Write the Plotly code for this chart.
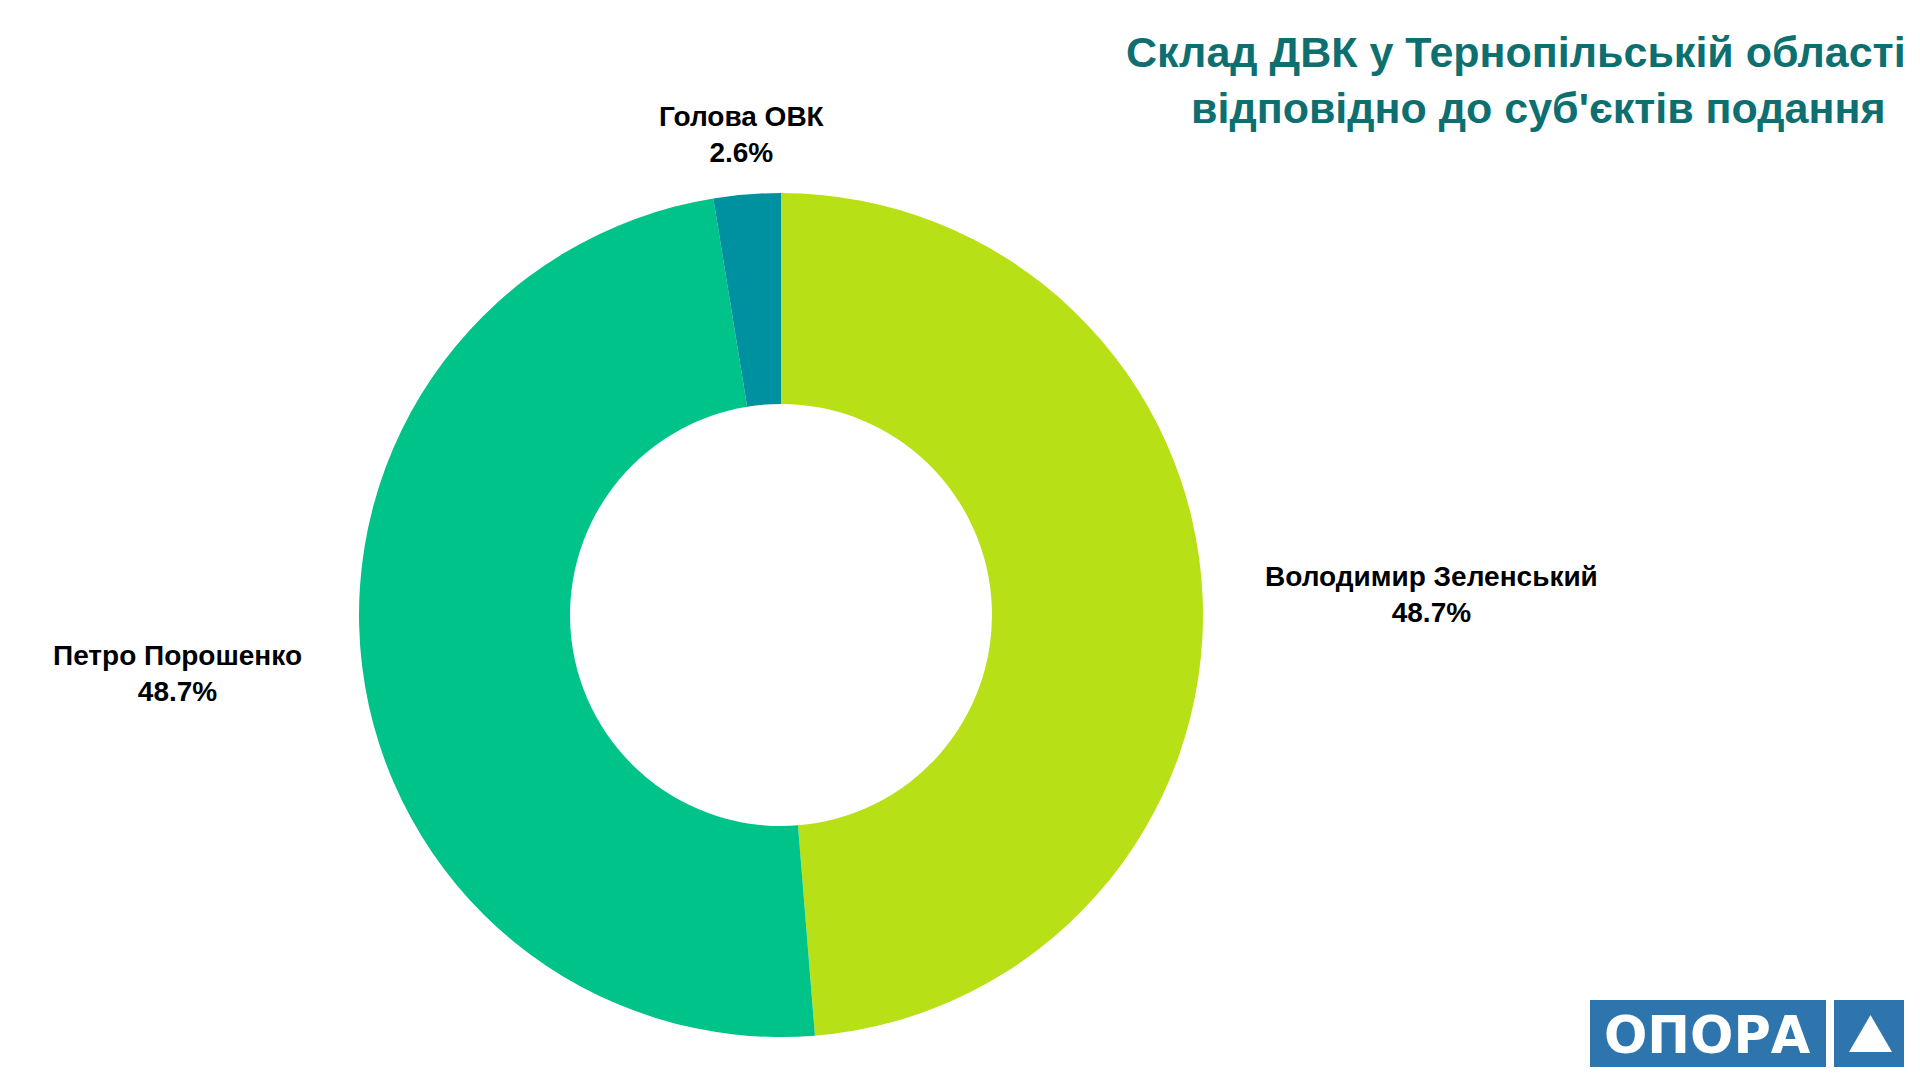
import plotly.graph_objects as go

W, H = 1920, 1080

# data
labels = ["Володимир Зеленський", "Петро Порошенко", "Голова ОВК"]
values = [19, 19, 1]
colors = ["#B8E016", "#00C389", "#0091A1"]

title_lines = ["Склад ДВК у Тернопільській області", "відповідно до суб'єктів подання"]

# label positions in px (centre of each label block)
label_pos = [(1423, 586), (169, 665), (734, 126)]


def px(x, y):
    return x / W, 1 - y / H


total = sum(values)
pcts = [f"{v / total * 100:.1f}%" for v in values]

# pie centre (773, 607), radius 422
cx, cy, r = 773, 607, 422

fig = go.Figure(
    go.Pie(
        labels=labels,
        values=values,
        hole=0.5,
        sort=False,
        direction="clockwise",
        rotation=0,
        marker=dict(colors=colors, line=dict(width=0)),
        textinfo="none",
        hoverinfo="label+percent",
        showlegend=False,
        domain=dict(x=[(cx - r) / W, (cx + r) / W], y=[1 - (cy + r) / H, 1 - (cy - r) / H]),
    )
)

annotations = []
for (lx, ly), name, pct in zip(label_pos, labels, pcts):
    x, y = px(lx, ly)
    annotations.append(
        dict(
            x=x, y=y, xref="paper", yref="paper",
            text=f"<b>{name}</b><br><b>{pct}</b>",
            showarrow=False, xanchor="center", yanchor="middle", align="center",
            font=dict(family="Liberation Sans", size=28, color="#000000"),
        )
    )

# title, two right-aligned lines
for (rx, by), line in zip([(1900, 70), (1879, 126)], title_lines):
    x, y = px(rx, by)
    annotations.append(
        dict(
            x=x, y=y, xref="paper", yref="paper",
            text=f"<b>{line}</b>",
            showarrow=False, xanchor="right", yanchor="bottom",
            font=dict(family="Liberation Sans", size=43, color="#0E6F70"),
        )
    )

# logo text
x, y = px(1699, 1027)
annotations.append(
    dict(
        x=x, y=y, xref="paper", yref="paper", text="<b>ОПОРА</b>",
        showarrow=False, xanchor="center", yanchor="middle",
        font=dict(family="DejaVu Sans", size=51, color="#FFFFFF"),
    )
)

shapes = []
for x0, x1 in [(1582, 1818), (1826, 1896)]:
    a0, b0 = px(x0, 1059)
    a1, b1 = px(x1, 992)
    shapes.append(
        dict(type="rect", xref="paper", yref="paper", x0=a0, x1=a1, y0=b0, y1=b1,
             fillcolor="#2E75AD", line=dict(width=0), layer="below")
    )

tx = [px(1841, 1044), px(1884, 1044), px(1862.5, 1007)]
path = "M {} {} L {} {} L {} {} Z".format(*[c for p in tx for c in p])
shapes.append(dict(type="path", xref="paper", yref="paper", path=path,
                   fillcolor="#FFFFFF", line=dict(width=0)))

fig.update_layout(
    width=W,
    height=H,
    margin=dict(l=0, r=0, t=0, b=0),
    paper_bgcolor="#FFFFFF",
    plot_bgcolor="#FFFFFF",
    annotations=annotations,
    shapes=shapes,
)

fig.write_html("out.html")
